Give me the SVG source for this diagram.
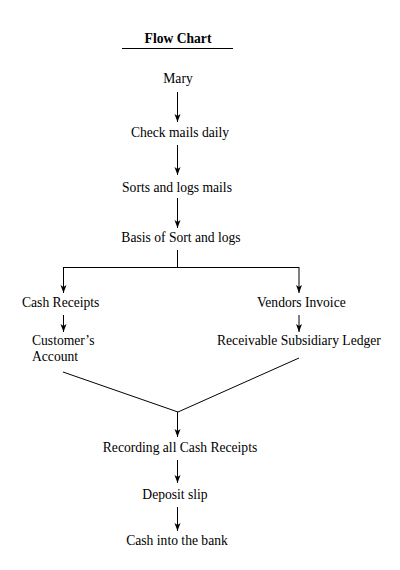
<svg xmlns="http://www.w3.org/2000/svg" width="400" height="570" viewBox="0 0 400 570">
<defs>
<marker id="ah" markerUnits="userSpaceOnUse" markerWidth="8" markerHeight="8" viewBox="0 0 8 8" refX="8" refY="4" orient="auto">
<path d="M0,1 L8,4 L0,7 L2,4 Z" fill="#000"/>
</marker>
<style>
text{font-family:"Liberation Serif","Times New Roman",serif;font-size:13.6px;fill:#000}
.c{text-anchor:middle}
.ln{stroke:#000;stroke-width:1;fill:none}
.ar{stroke:#000;stroke-width:1;fill:none}
</style>
</defs>
<rect width="400" height="570" fill="#fff"/>
<g id="title">
<text class="c" x="178" y="43" font-weight="bold">Flow Chart</text>
<line class="ln" x1="122" y1="48.5" x2="233" y2="48.5"/>
</g>
<g id="n-mary"><text class="c" x="178" y="83">Mary</text></g>
<g id="n-check"><text class="c" x="180" y="137">Check mails daily</text></g>
<g id="n-sorts"><text class="c" x="177" y="192">Sorts and logs mails</text></g>
<g id="n-basis"><text class="c" x="181" y="242">Basis of Sort and logs</text></g>
<g id="n-cash"><text x="22" y="307">Cash Receipts</text></g>
<g id="n-vendors"><text x="257" y="307">Vendors Invoice</text></g>
<g id="n-customer"><text x="32" y="345">Customer’s</text><text x="32" y="361">Account</text></g>
<g id="n-ledger"><text x="217" y="345">Receivable Subsidiary Ledger</text></g>
<g id="n-recording"><text class="c" x="180" y="452">Recording all Cash Receipts</text></g>
<g id="n-deposit"><text class="c" x="175" y="499">Deposit slip</text></g>
<g id="n-bank"><text class="c" x="177" y="545">Cash into the bank</text></g>
<g id="connectors">
<path class="ar" d="M177.5,92 V122" marker-end="url(#ah)"/>
<path class="ar" d="M177.5,145 V175" marker-end="url(#ah)"/>
<path class="ar" d="M177.5,198 V228" marker-end="url(#ah)"/>
<path class="ln" d="M177.5,250 V267.5 M63,267.5 H299"/>
<path class="ar" d="M63.5,267 V293" marker-end="url(#ah)"/>
<path class="ar" d="M299,267 V293" marker-end="url(#ah)"/>
<path class="ar" d="M63.5,315 V332" marker-end="url(#ah)"/>
<path class="ar" d="M299,315 V332" marker-end="url(#ah)"/>
<path class="ln" d="M63,372 L178,412 L299,358"/>
<path class="ar" d="M177.5,412 V437" marker-end="url(#ah)"/>
<path class="ar" d="M177.5,460 V483" marker-end="url(#ah)"/>
<path class="ar" d="M177.5,507 V531" marker-end="url(#ah)"/>
</g>
</svg>
